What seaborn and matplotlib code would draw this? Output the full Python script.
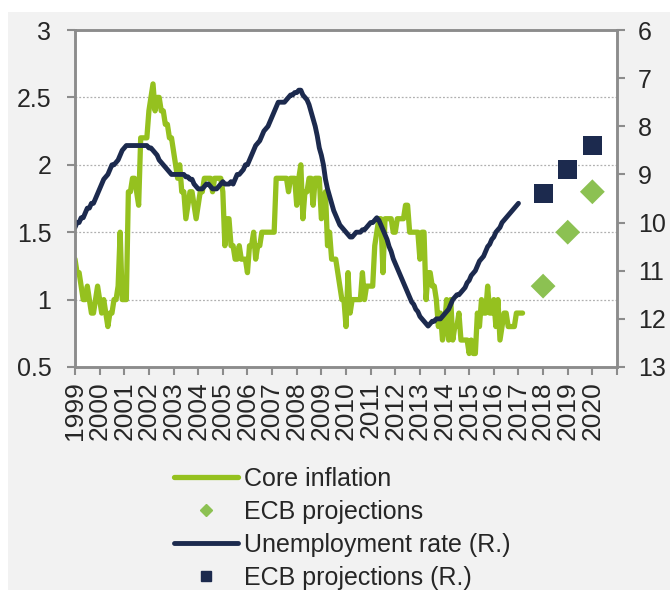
import numpy as np
import pandas as pd
import matplotlib
matplotlib.use("Agg")
import matplotlib.pyplot as plt
from matplotlib.lines import Line2D
from matplotlib.patches import Rectangle
import seaborn as sns

# Core inflation (HICP excl. energy & food, % y/y), monthly Jan 1999 - Mar 2017
core_inflation = [
    1.3, 1.2, 1.2, 1.1, 1.0, 1.0, 1.1, 1.0, 0.9, 0.9, 1.0, 1.1,   # 1999
    1.0, 0.9, 1.0, 0.9, 0.8, 0.9, 0.9, 1.0, 1.0, 1.1, 1.5, 1.0,   # 2000
    1.0, 1.0, 1.8, 1.8, 1.9, 1.9, 1.8, 1.7, 2.2, 2.2, 2.2, 2.2,   # 2001
    2.4, 2.5, 2.6, 2.4, 2.5, 2.5, 2.4, 2.4, 2.3, 2.3, 2.2, 2.2,   # 2002
    2.1, 2.0, 1.9, 2.0, 1.8, 1.8, 1.6, 1.7, 1.8, 1.8, 1.7, 1.6,   # 2003
    1.7, 1.8, 1.8, 1.9, 1.9, 1.9, 1.9, 1.8, 1.9, 1.9, 1.9, 1.9,   # 2004
    1.8, 1.4, 1.6, 1.6, 1.4, 1.4, 1.3, 1.3, 1.4, 1.3, 1.3, 1.3,   # 2005
    1.2, 1.4, 1.4, 1.5, 1.3, 1.4, 1.4, 1.5, 1.5, 1.5, 1.5, 1.5,   # 2006
    1.5, 1.5, 1.9, 1.9, 1.9, 1.9, 1.9, 1.9, 1.8, 1.9, 1.9, 1.9,   # 2007
    1.7, 1.9, 2.0, 1.6, 1.8, 1.8, 1.9, 1.9, 1.7, 1.9, 1.9, 1.9,   # 2008
    1.6, 1.7, 1.8, 1.4, 1.5, 1.3, 1.3, 1.3, 1.2, 1.1, 1.0, 1.0,   # 2009
    0.8, 1.2, 0.9, 1.0, 1.0, 1.0, 1.0, 1.0, 1.2, 1.0, 1.1, 1.1,   # 2010
    1.1, 1.1, 1.4, 1.5, 1.6, 1.6, 1.2, 1.6, 1.6, 1.6, 1.6, 1.5,   # 2011
    1.5, 1.6, 1.6, 1.6, 1.6, 1.7, 1.7, 1.5, 1.5, 1.5, 1.5, 1.5,   # 2012
    1.3, 1.5, 1.5, 1.0, 1.2, 1.2, 1.1, 1.1, 1.0, 0.8, 0.9, 0.7,   # 2013
    0.8, 1.0, 0.7, 1.0, 0.7, 0.8, 0.8, 0.9, 0.7, 0.7, 0.7, 0.7,   # 2014
    0.6, 0.7, 0.6, 0.6, 0.9, 0.8, 1.0, 0.9, 0.9, 1.1, 0.9, 0.9,   # 2015
    1.0, 0.8, 1.0, 0.7, 0.8, 0.9, 0.9, 0.8, 0.8, 0.8, 0.8, 0.9,   # 2016
    0.9, 0.9, 0.9,                                                 # 2017
]

# Unemployment rate (%), monthly Jan 1999 - Jan 2017
unemployment = [
    10.1, 10.0, 10.0, 9.9, 9.9, 9.8, 9.7, 9.7, 9.6, 9.6, 9.5, 9.4,          # 1999
    9.3, 9.2, 9.1, 9.05, 9.0, 8.9, 8.8, 8.8, 8.75, 8.7, 8.6, 8.5,           # 2000
    8.45, 8.4, 8.4, 8.4, 8.4, 8.4, 8.4, 8.4, 8.4, 8.4, 8.4, 8.4,            # 2001
    8.45, 8.45, 8.5, 8.55, 8.6, 8.7, 8.75, 8.8, 8.85, 8.9, 8.95, 9.0,       # 2002
    9.0, 9.0, 9.0, 9.0, 9.0, 9.0, 9.05, 9.05, 9.1, 9.1, 9.2, 9.25,          # 2003
    9.3, 9.3, 9.3, 9.25, 9.2, 9.2, 9.25, 9.3, 9.3, 9.3, 9.25, 9.2,          # 2004
    9.15, 9.2, 9.2, 9.2, 9.15, 9.2, 9.1, 9.0, 9.0, 8.95, 8.9, 8.8,          # 2005
    8.8, 8.7, 8.6, 8.5, 8.4, 8.35, 8.3, 8.2, 8.1, 8.05, 8.0, 7.9,           # 2006
    7.8, 7.7, 7.6, 7.5, 7.5, 7.5, 7.5, 7.45, 7.4, 7.35, 7.35, 7.3,          # 2007
    7.3, 7.25, 7.25, 7.35, 7.4, 7.45, 7.55, 7.7, 7.85, 8.0, 8.2, 8.45,      # 2008
    8.6, 8.8, 9.1, 9.3, 9.45, 9.6, 9.75, 9.85, 9.95, 10.05, 10.1, 10.15,    # 2009
    10.2, 10.25, 10.3, 10.3, 10.25, 10.2, 10.2, 10.2, 10.15, 10.15, 10.1, 10.05,  # 2010
    10.0, 10.0, 9.95, 9.9, 9.95, 10.05, 10.15, 10.25, 10.35, 10.5, 10.6, 10.75,   # 2011
    10.85, 10.95, 11.05, 11.15, 11.25, 11.35, 11.45, 11.55, 11.65, 11.7, 11.8, 11.85,  # 2012
    11.95, 12.0, 12.05, 12.1, 12.15, 12.1, 12.05, 12.05, 12.0, 12.0, 12.0, 11.95,  # 2013
    11.9, 11.85, 11.8, 11.7, 11.6, 11.55, 11.5, 11.5, 11.45, 11.4, 11.35, 11.25,   # 2014
    11.2, 11.1, 11.05, 11.0, 10.9, 10.8, 10.75, 10.7, 10.6, 10.5, 10.45, 10.35,    # 2015
    10.3, 10.2, 10.15, 10.1, 10.0, 9.95, 9.9, 9.85, 9.8, 9.75, 9.7, 9.65,          # 2016
    9.6,                                                                             # 2017
]

# ECB staff projections
proj_years = [2018, 2019, 2020]
proj_inflation = [1.1, 1.5, 1.8]
proj_unemployment = [9.4, 8.9, 8.4]

year_ticks = list(range(1999, 2022))
year_labels = [str(y) for y in range(1999, 2021)] + [""]

GREEN = "#95c11f"
GREEN_LIGHT = "#8cc152"
NAVY = "#1c2a4e"
SPINE = "#8c8c8c"

infl_df = pd.DataFrame({"t": 1999 + np.arange(len(core_inflation)) / 12.0,
                        "value": core_inflation})
unemp_df = pd.DataFrame({"t": 1999 + np.arange(len(unemployment)) / 12.0,
                         "value": unemployment})
proj_infl_df = pd.DataFrame({"t": proj_years, "value": proj_inflation})
proj_unemp_df = pd.DataFrame({"t": proj_years, "value": proj_unemployment})

sns.set_theme(style="white")
plt.rcParams["font.family"] = ["Liberation Sans", "DejaVu Sans"]
FS = 18

fig = plt.figure(figsize=(6.7, 5.9), dpi=100, facecolor="white")
fig.patches.append(Rectangle((8 / 670, 0), 1 - 8 / 670, 1 - 12 / 590,
                             transform=fig.transFigure, facecolor="#f2f2f2",
                             edgecolor="none", zorder=-10))

ax = fig.add_axes([75 / 670, 1 - 367 / 590, 542 / 670, 337 / 590])
ax.set_facecolor("white")
ax2 = ax.twinx()

sns.lineplot(data=infl_df, x="t", y="value", ax=ax, color=GREEN,
             linewidth=3.8, legend=False)
sns.scatterplot(data=proj_infl_df, x="t", y="value", ax=ax, marker="D",
                s=160, color=GREEN_LIGHT, edgecolor="none", legend=False,
                zorder=5)

sns.lineplot(data=unemp_df, x="t", y="value", ax=ax2, color=NAVY,
             linewidth=3.5, legend=False)
sns.scatterplot(data=proj_unemp_df, x="t", y="value", ax=ax2, marker="s",
                s=190, color=NAVY, edgecolor="none", legend=False, zorder=5)

ax.set_xlim(1999, 2021)
ax.set_ylim(0.5, 3)
ax2.set_ylim(13, 6)

ax.set_yticks([0.5, 1, 1.5, 2, 2.5, 3])
ax.set_yticklabels(["0.5", "1", "1.5", "2", "2.5", "3"])
ax2.set_yticks(range(6, 14))
ax.set_xticks(year_ticks)
ax.set_xticklabels(year_labels, rotation=90, fontsize=19)

for y in [1, 1.5, 2, 2.5]:
    ax.axhline(y, color="#b0b0b0", linewidth=0.9, linestyle=(0, (1.5, 1.5)),
               zorder=0)

for a in (ax, ax2):
    a.set_xlabel("")
    a.set_ylabel("")
    for s in a.spines.values():
        s.set_color(SPINE)
        s.set_linewidth(1.8)

ax.tick_params(axis="y", which="both", direction="out", length=6, width=1.5,
               color=SPINE, labelsize=FS, pad=11, left=True, right=False)
ax.tick_params(axis="x", direction="out", length=6, width=1.5, color=SPINE,
               pad=4, bottom=True)
ax2.tick_params(axis="y", direction="out", length=6, width=1.5, color=SPINE,
                labelsize=FS, pad=9, right=True, left=False)

handles = [
    Line2D([], [], color=GREEN, linewidth=3.8),
    Line2D([], [], color=GREEN_LIGHT, marker="D", linestyle="none",
           markersize=6),
    Line2D([], [], color=NAVY, linewidth=3.5),
    Line2D([], [], color=NAVY, marker="s", linestyle="none", markersize=7.5),
]
labels = ["Core inflation", "ECB projections", "Unemployment rate (R.)",
          "ECB projections (R.)"]
fig.legend(handles, labels, loc="upper left",
           bbox_to_anchor=(174 / 670, 1 - 467 / 590), frameon=False,
           fontsize=FS, handlelength=2.55, handletextpad=0.25,
           labelspacing=0.36, borderpad=0, borderaxespad=0)

fig.savefig("out.png", dpi=100, facecolor=fig.get_facecolor())
